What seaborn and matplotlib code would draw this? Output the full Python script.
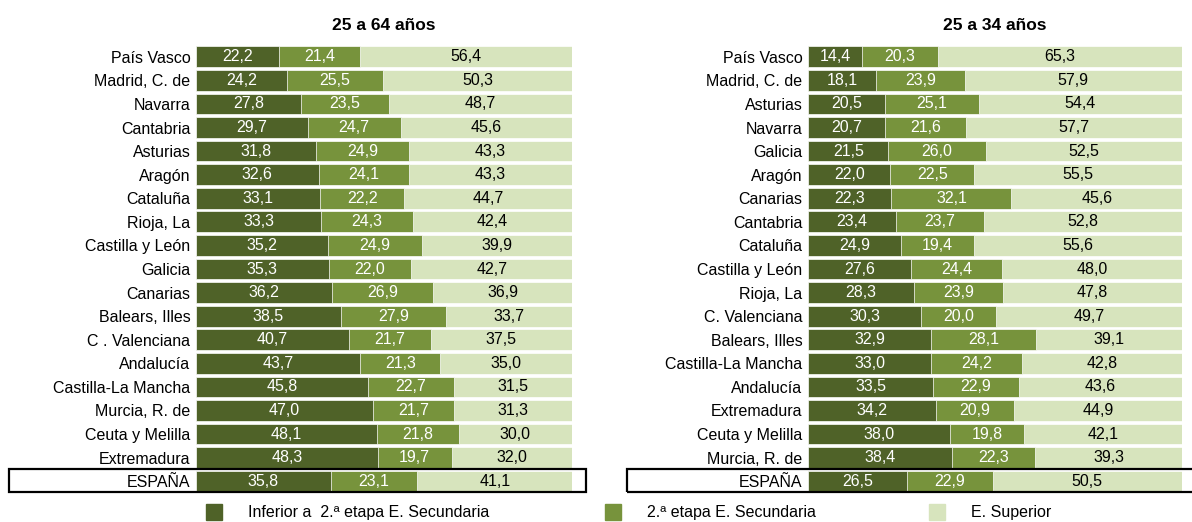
import matplotlib
matplotlib.use("Agg")
import matplotlib.pyplot as plt
import matplotlib.patches as mpatches
import pandas as pd
import seaborn as sns

sns.set_style("white")
plt.rcParams['font.family'] = ['Liberation Sans', 'DejaVu Sans']
plt.rcParams['text.color'] = 'black'
plt.rcParams['ytick.color'] = 'black'
plt.rcParams['ytick.labelcolor'] = 'black'

# 25 a 64 años
regiones_64 = ["País Vasco", "Madrid, C. de", "Navarra", "Cantabria", "Asturias", "Aragón",
               "Cataluña", "Rioja, La", "Castilla y León", "Galicia", "Canarias", "Balears, Illes",
               "C . Valenciana", "Andalucía", "Castilla-La Mancha", "Murcia, R. de",
               "Ceuta y Melilla", "Extremadura", "ESPAÑA"]
inferior_64 = [22.2, 24.2, 27.8, 29.7, 31.8, 32.6, 33.1, 33.3, 35.2, 35.3, 36.2, 38.5,
               40.7, 43.7, 45.8, 47.0, 48.1, 48.3, 35.8]
segunda_64 = [21.4, 25.5, 23.5, 24.7, 24.9, 24.1, 22.2, 24.3, 24.9, 22.0, 26.9, 27.9,
              21.7, 21.3, 22.7, 21.7, 21.8, 19.7, 23.1]
superior_64 = [56.4, 50.3, 48.7, 45.6, 43.3, 43.3, 44.7, 42.4, 39.9, 42.7, 36.9, 33.7,
               37.5, 35.0, 31.5, 31.3, 30.0, 32.0, 41.1]

# 25 a 34 años
regiones_34 = ["País Vasco", "Madrid, C. de", "Asturias", "Navarra", "Galicia", "Aragón",
               "Canarias", "Cantabria", "Cataluña", "Castilla y León", "Rioja, La",
               "C. Valenciana", "Balears, Illes", "Castilla-La Mancha", "Andalucía",
               "Extremadura", "Ceuta y Melilla", "Murcia, R. de", "ESPAÑA"]
inferior_34 = [14.4, 18.1, 20.5, 20.7, 21.5, 22.0, 22.3, 23.4, 24.9, 27.6, 28.3, 30.3,
               32.9, 33.0, 33.5, 34.2, 38.0, 38.4, 26.5]
segunda_34 = [20.3, 23.9, 25.1, 21.6, 26.0, 22.5, 32.1, 23.7, 19.4, 24.4, 23.9, 20.0,
              28.1, 24.2, 22.9, 20.9, 19.8, 22.3, 22.9]
superior_34 = [65.3, 57.9, 54.4, 57.7, 52.5, 55.5, 45.6, 52.8, 55.6, 48.0, 47.8, 49.7,
               39.1, 42.8, 43.6, 44.9, 42.1, 39.3, 50.5]

series = ["Inferior a  2.ª etapa E. Secundaria", "2.ª etapa E. Secundaria", "E. Superior"]
colores = ["#4F6228", "#77933C", "#D7E4BD"]
texto_col = ["white", "white", "black"]

fig = plt.figure(figsize=(11.92, 5.22), dpi=100)
W, H = 1192, 522


def panel(rect, regiones, inf, seg, sup, titulo):
    ax = fig.add_axes(rect)
    df = pd.DataFrame({"region": regiones, "inf": inf, "seg": seg, "sup": sup})
    df["c1"] = df["inf"]
    df["c2"] = df["inf"] + df["seg"]
    df["c3"] = df["c2"] + df["sup"]
    # barras apiladas: se dibuja el acumulado de mayor a menor
    for col, color in zip(["c3", "c2", "c1"], colores[::-1]):
        sns.barplot(data=df, x=col, y="region", orient="h", color=color, width=0.88,
                    edgecolor="white", linewidth=0.5, saturation=1, ax=ax)
    for i, row in df.iterrows():
        starts = [0, row["c1"], row["c2"]]
        for v, s, tc in zip([row["inf"], row["seg"], row["sup"]], starts, texto_col):
            ax.text(s + v / 2, i, f"{v:.1f}".replace(".", ","), ha="center", va="center",
                    color=tc, fontsize=11.5)
    ax.set_xlim(0, 100)
    ax.set_ylim(len(regiones) - 0.5, -0.5)
    ax.set_xlabel("")
    ax.set_ylabel("")
    ax.set_xticks([])
    ax.tick_params(axis="y", length=0, pad=4, labelsize=11.5, labelcolor="black")
    for s in ax.spines.values():
        s.set_visible(False)
    ax.set_title(titulo, fontsize=12.5, fontweight="bold", pad=11, color="black")
    return ax


axl = panel([196 / W, 1 - 493 / H, 376 / W, 448 / H], regiones_64, inferior_64, segunda_64,
            superior_64, "25 a 64 años")
axr = panel([808 / W, 1 - 493 / H, 374 / W, 448 / H], regiones_34, inferior_34, segunda_34,
            superior_34, "25 a 34 años")

# recuadro ESPAÑA
for x0, x1 in [(9, 586), (627, 1200)]:
    fig.add_artist(mpatches.Rectangle((x0 / W, 1 - 492 / H), (x1 - x0) / W, 23 / H,
                                      transform=fig.transFigure, fill=False,
                                      edgecolor="black", linewidth=1.6))

# leyenda
for xs, name, color in zip([206, 605, 929], series, colores):
    fig.add_artist(mpatches.Rectangle((xs / W, 1 - 520 / H), 16 / W, 16 / H,
                                      transform=fig.transFigure, color=color))
    fig.text((xs + 42) / W, 1 - 512 / H, name, fontsize=11.5, va="center", ha="left",
             color="black")

fig.savefig("out.png", dpi=100)
